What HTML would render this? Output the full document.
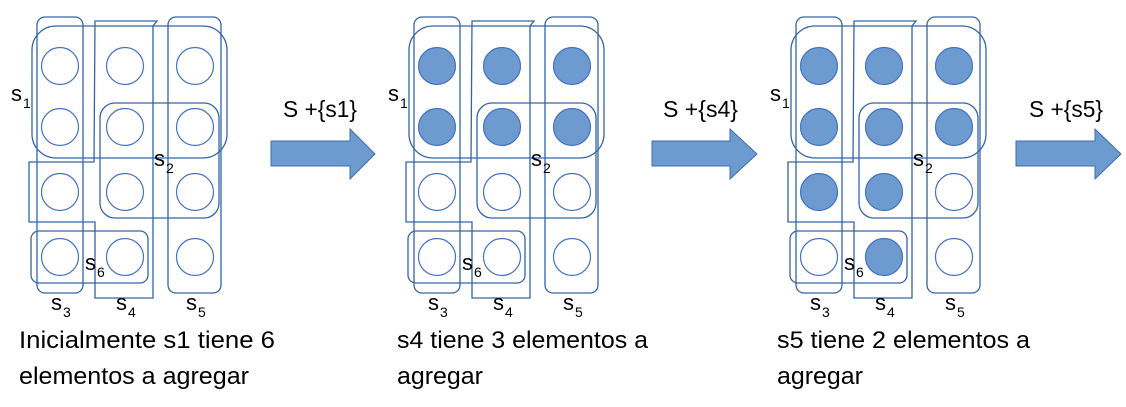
<!DOCTYPE html>
<html><head><meta charset="utf-8"><style>
html,body{margin:0;padding:0;background:#fff;}
svg{display:block;}
text{font-family:"Liberation Sans",sans-serif;fill:#000;}
</style></head><body>
<svg width="1126" height="407" viewBox="0 0 1126 407" xmlns="http://www.w3.org/2000/svg">
<defs>
<g id="frame" fill="none" stroke="#3464a8" stroke-width="1.3">
  <rect x="37" y="17" width="46" height="276" rx="8"/>
  <rect x="32" y="26" width="195" height="132" rx="24"/>
  <path d="M95,21 L157,21 L153,26 L153,298 L95,298 L95,222 L29,222 L29,162 L94,162 Z"/>
  <rect x="100" y="103" width="119" height="115" rx="15"/>
  <rect x="168" y="17" width="53" height="276" rx="8"/>
  <rect x="31" y="231" width="117" height="52" rx="8"/>
</g>
<g id="labels" font-size="22">
  <text x="11" y="101">s</text><text x="23" y="108" font-size="14">1</text>
  <text x="154" y="166">s</text><text x="166" y="173" font-size="14">2</text>
  <text x="51" y="310">s</text><text x="63" y="317" font-size="14">3</text>
  <text x="116" y="310">s</text><text x="128" y="317" font-size="14">4</text>
  <text x="186" y="310">s</text><text x="198" y="317" font-size="14">5</text>
  <text x="85" y="270">s</text><text x="97" y="277" font-size="14">6</text>
</g>
</defs>

<!-- Panel 1 -->
<g>
  <g fill="none" stroke="#4472c4" stroke-width="1.2">
    <circle cx="60" cy="66" r="18.5"/><circle cx="125" cy="66" r="18.5"/><circle cx="195" cy="66" r="18.5"/>
    <circle cx="60" cy="127" r="18.5"/><circle cx="125" cy="127" r="18.5"/><circle cx="195" cy="127" r="18.5"/>
    <circle cx="60" cy="192" r="18.5"/><circle cx="125" cy="192" r="18.5"/><circle cx="195" cy="192" r="18.5"/>
    <circle cx="60" cy="257" r="18.5"/><circle cx="125" cy="257" r="18.5"/><circle cx="195" cy="257" r="18.5"/>
  </g>
  <use href="#frame"/><use href="#labels"/>
</g>

<!-- Panel 2 -->
<g transform="translate(377,0)">
  <g stroke="#4472c4" stroke-width="1.2">
    <circle cx="60" cy="66" r="18.5" fill="#6d9bcf"/><circle cx="125" cy="66" r="18.5" fill="#6d9bcf"/><circle cx="195" cy="66" r="18.5" fill="#6d9bcf"/>
    <circle cx="60" cy="127" r="18.5" fill="#6d9bcf"/><circle cx="125" cy="127" r="18.5" fill="#6d9bcf"/><circle cx="195" cy="127" r="18.5" fill="#6d9bcf"/>
    <circle cx="60" cy="192" r="18.5" fill="none"/><circle cx="125" cy="192" r="18.5" fill="none"/><circle cx="195" cy="192" r="18.5" fill="none"/>
    <circle cx="60" cy="257" r="18.5" fill="none"/><circle cx="125" cy="257" r="18.5" fill="none"/><circle cx="195" cy="257" r="18.5" fill="none"/>
  </g>
  <use href="#frame"/><use href="#labels"/>
</g>

<!-- Panel 3 -->
<g transform="translate(759,0)">
  <g stroke="#4472c4" stroke-width="1.2">
    <circle cx="60" cy="66" r="18.5" fill="#6d9bcf"/><circle cx="125" cy="66" r="18.5" fill="#6d9bcf"/><circle cx="195" cy="66" r="18.5" fill="#6d9bcf"/>
    <circle cx="60" cy="127" r="18.5" fill="#6d9bcf"/><circle cx="125" cy="127" r="18.5" fill="#6d9bcf"/><circle cx="195" cy="127" r="18.5" fill="#6d9bcf"/>
    <circle cx="60" cy="192" r="18.5" fill="#6d9bcf"/><circle cx="125" cy="192" r="18.5" fill="#6d9bcf"/><circle cx="195" cy="192" r="18.5" fill="none"/>
    <circle cx="60" cy="257" r="18.5" fill="none"/><circle cx="125" cy="257" r="18.5" fill="#6d9bcf"/><circle cx="195" cy="257" r="18.5" fill="none"/>
  </g>
  <use href="#frame"/><use href="#labels"/>
</g>

<!-- Arrows -->
<g fill="#6d9bcf" stroke="#3e6eaa" stroke-width="1">
  <path d="M271,141 L350,141 L350,129 L375,154 L350,179 L350,166 L271,166 Z"/>
  <path d="M652,141 L730,141 L730,129 L757,154 L730,179 L730,166 L652,166 Z"/>
  <path d="M1016,141 L1095,141 L1095,129 L1121,154 L1095,179 L1095,166 L1016,166 Z"/>
</g>
<g font-size="23">
  <text x="283" y="117" textLength="74" lengthAdjust="spacingAndGlyphs">S +{s1}</text>
  <text x="663" y="117" textLength="75" lengthAdjust="spacingAndGlyphs">S +{s4}</text>
  <text x="1029" y="117" textLength="74" lengthAdjust="spacingAndGlyphs">S +{s5}</text>
</g>

<!-- Captions -->
<g font-size="24">
  <text x="19" y="348" textLength="256" lengthAdjust="spacingAndGlyphs">Inicialmente s1 tiene 6</text>
  <text x="19" y="384" textLength="230" lengthAdjust="spacingAndGlyphs">elementos a agregar</text>
  <text x="397" y="348" textLength="251" lengthAdjust="spacingAndGlyphs">s4 tiene 3 elementos a</text>
  <text x="397" y="384" textLength="86" lengthAdjust="spacingAndGlyphs">agregar</text>
  <text x="777" y="348" textLength="253" lengthAdjust="spacingAndGlyphs">s5 tiene 2 elementos a</text>
  <text x="777" y="384" textLength="86" lengthAdjust="spacingAndGlyphs">agregar</text>
</g>
</svg>
</body></html>
